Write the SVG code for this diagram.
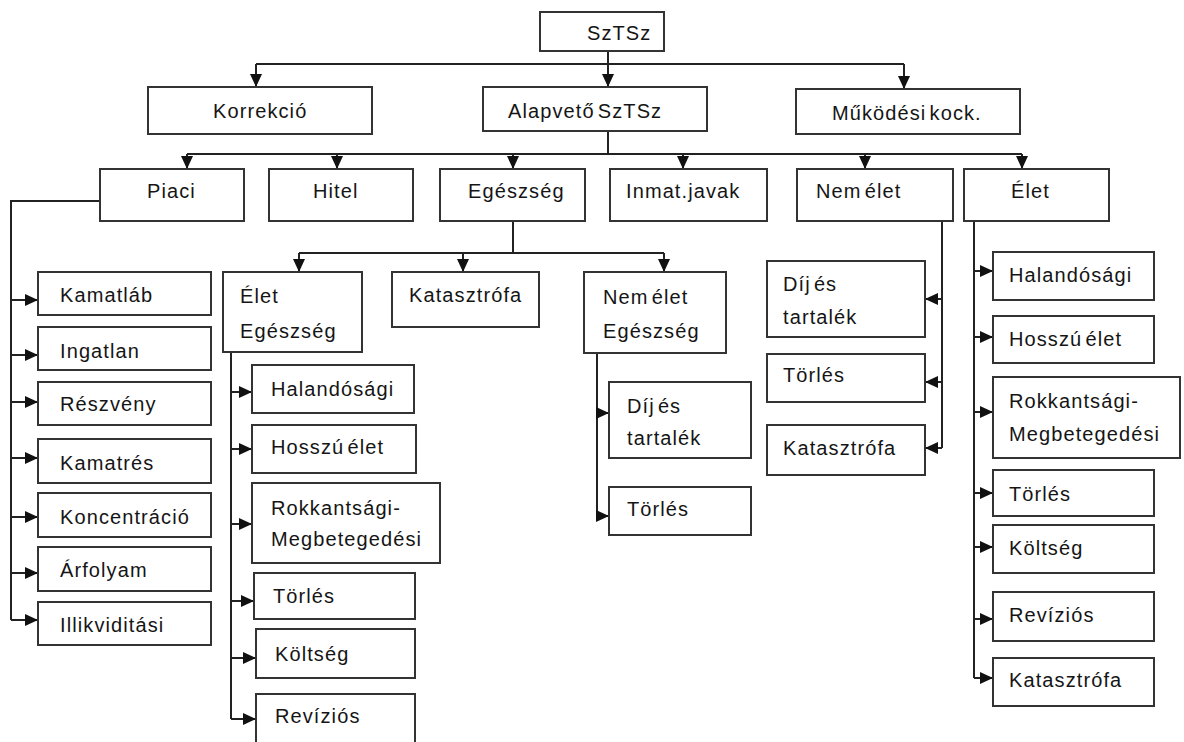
<svg xmlns="http://www.w3.org/2000/svg" width="1184" height="742" viewBox="0 0 1184 742">
<defs>
<style>
.b{fill:#fff;stroke:#333;stroke-width:2}
.t{font-family:"Liberation Sans",Arial,sans-serif;font-size:20px;fill:#151515;letter-spacing:1.1px;word-spacing:-3.5px}
.c{fill:none;stroke:#222;stroke-width:2}
</style>
<marker id="a" markerUnits="userSpaceOnUse" markerWidth="13" markerHeight="12" refX="13" refY="6" orient="auto">
<path d="M0,0 L13,6 L0,12 z" fill="#111"/>
</marker>
</defs>
<rect width="1184" height="742" fill="#fff"/>
<g id="connectors">
<path class="c" d="M608,51 V64 M256,64 H904"/>
<path class="c" d="M256,64 V87" marker-end="url(#a)"/>
<path class="c" d="M608,64 V87" marker-end="url(#a)"/>
<path class="c" d="M904,64 V89" marker-end="url(#a)"/>
<path class="c" d="M608,131 V154 M187,154 H1022"/>
<path class="c" d="M187,154 V169" marker-end="url(#a)"/>
<path class="c" d="M337,154 V169" marker-end="url(#a)"/>
<path class="c" d="M513,154 V169" marker-end="url(#a)"/>
<path class="c" d="M683,154 V169" marker-end="url(#a)"/>
<path class="c" d="M865,154 V169" marker-end="url(#a)"/>
<path class="c" d="M1022,154 V169" marker-end="url(#a)"/>
<path class="c" d="M100,201 H11 V620"/>
<path class="c" d="M11,300 H38" marker-end="url(#a)"/>
<path class="c" d="M11,355 H38" marker-end="url(#a)"/>
<path class="c" d="M11,402 H38" marker-end="url(#a)"/>
<path class="c" d="M11,458 H38" marker-end="url(#a)"/>
<path class="c" d="M11,517 H38" marker-end="url(#a)"/>
<path class="c" d="M11,573 H38" marker-end="url(#a)"/>
<path class="c" d="M11,620 H38" marker-end="url(#a)"/>
<path class="c" d="M513,221 V253 M299,253 H664"/>
<path class="c" d="M299,253 V272" marker-end="url(#a)"/>
<path class="c" d="M463,253 V272" marker-end="url(#a)"/>
<path class="c" d="M664,253 V272" marker-end="url(#a)"/>
<path class="c" d="M231,352 V719"/>
<path class="c" d="M231,392 H252" marker-end="url(#a)"/>
<path class="c" d="M231,449 H252" marker-end="url(#a)"/>
<path class="c" d="M231,524 H252" marker-end="url(#a)"/>
<path class="c" d="M231,601 H254" marker-end="url(#a)"/>
<path class="c" d="M231,658 H256" marker-end="url(#a)"/>
<path class="c" d="M231,719 H256" marker-end="url(#a)"/>
<path class="c" d="M597,353 V516"/>
<path class="c" d="M597,413 H609" marker-end="url(#a)"/>
<path class="c" d="M597,516 H609" marker-end="url(#a)"/>
<path class="c" d="M942,221 V448"/>
<path class="c" d="M942,299 H925" marker-end="url(#a)"/>
<path class="c" d="M942,382 H925" marker-end="url(#a)"/>
<path class="c" d="M942,448 H925" marker-end="url(#a)"/>
<path class="c" d="M974,221 V678"/>
<path class="c" d="M974,271 H993" marker-end="url(#a)"/>
<path class="c" d="M974,337 H993" marker-end="url(#a)"/>
<path class="c" d="M974,412 H993" marker-end="url(#a)"/>
<path class="c" d="M974,493 H993" marker-end="url(#a)"/>
<path class="c" d="M974,547 H993" marker-end="url(#a)"/>
<path class="c" d="M974,619 H993" marker-end="url(#a)"/>
<path class="c" d="M974,678 H993" marker-end="url(#a)"/>
</g>
<g id="n-sztsz"><rect class="b" x="540" y="12" width="124" height="39"/><text class="t" x="587" y="40">SzTSz</text></g>
<g id="n-korrekcio"><rect class="b" x="148" y="87" width="224" height="47"/><text class="t" x="213" y="118">Korrekció</text></g>
<g id="n-alapveto"><rect class="b" x="483" y="87" width="224" height="44"/><text class="t" x="508" y="118">Alapvető SzTSz</text></g>
<g id="n-mukodesi"><rect class="b" x="796" y="89" width="224" height="45"/><text class="t" x="832" y="120">Működési kock.</text></g>
<g id="n-piaci"><rect class="b" x="100" y="169" width="144" height="52"/><text class="t" x="147" y="198">Piaci</text></g>
<g id="n-hitel"><rect class="b" x="269" y="169" width="144" height="52"/><text class="t" x="313" y="198">Hitel</text></g>
<g id="n-egeszseg"><rect class="b" x="440" y="169" width="145" height="52"/><text class="t" x="468" y="198">Egészség</text></g>
<g id="n-inmat"><rect class="b" x="610" y="169" width="157" height="52"/><text class="t" x="626" y="198">Inmat.javak</text></g>
<g id="n-nemelet"><rect class="b" x="797" y="169" width="156" height="52"/><text class="t" x="816" y="198">Nem élet</text></g>
<g id="n-elet"><rect class="b" x="964" y="169" width="145" height="52"/><text class="t" x="1011" y="198">Élet</text></g>
<g id="n-kamatlab"><rect class="b" x="38" y="272" width="173" height="43"/><text class="t" x="60" y="302">Kamatláb</text></g>
<g id="n-ingatlan"><rect class="b" x="38" y="327" width="173" height="43"/><text class="t" x="60" y="358">Ingatlan</text></g>
<g id="n-reszveny"><rect class="b" x="38" y="382" width="173" height="43"/><text class="t" x="60" y="411">Részvény</text></g>
<g id="n-kamatres"><rect class="b" x="38" y="439" width="173" height="44"/><text class="t" x="60" y="470">Kamatrés</text></g>
<g id="n-koncentracio"><rect class="b" x="38" y="493" width="173" height="44"/><text class="t" x="60" y="524">Koncentráció</text></g>
<g id="n-arfolyam"><rect class="b" x="38" y="547" width="173" height="44"/><text class="t" x="60" y="577">Árfolyam</text></g>
<g id="n-illikvid"><rect class="b" x="38" y="602" width="173" height="43"/><text class="t" x="60" y="632">Illikviditási</text></g>
<g id="n-eletegeszseg"><rect class="b" x="223" y="272" width="139" height="80"/><text class="t" x="240" y="303">Élet</text><text class="t" x="240" y="338">Egészség</text></g>
<g id="n-katasztrofa"><rect class="b" x="392" y="272" width="147" height="55"/><text class="t" x="409" y="302">Katasztrófa</text></g>
<g id="n-nemeletegeszseg"><rect class="b" x="584" y="272" width="142" height="81"/><text class="t" x="603" y="304">Nem élet</text><text class="t" x="603" y="338">Egészség</text></g>
<g id="n-ee-halandosagi"><rect class="b" x="252" y="365" width="162" height="48"/><text class="t" x="271" y="396">Halandósági</text></g>
<g id="n-ee-hosszu"><rect class="b" x="252" y="425" width="164" height="48"/><text class="t" x="271" y="454">Hosszú élet</text></g>
<g id="n-ee-rokkant"><rect class="b" x="252" y="483" width="188" height="80"/><text class="t" x="271" y="515">Rokkantsági-</text><text class="t" x="271" y="546">Megbetegedési</text></g>
<g id="n-ee-torles"><rect class="b" x="254" y="573" width="161" height="46"/><text class="t" x="273" y="603">Törlés</text></g>
<g id="n-ee-koltseg"><rect class="b" x="256" y="629" width="159" height="49"/><text class="t" x="275" y="661">Költség</text></g>
<g id="n-ee-revizios"><rect class="b" x="256" y="694" width="159" height="60"/><text class="t" x="275" y="723">Revíziós</text></g>
<g id="n-nee-dij"><rect class="b" x="609" y="382" width="142" height="76"/><text class="t" x="627" y="413">Díj és</text><text class="t" x="627" y="445">tartalék</text></g>
<g id="n-nee-torles"><rect class="b" x="609" y="487" width="142" height="48"/><text class="t" x="627" y="516">Törlés</text></g>
<g id="n-ne-dij"><rect class="b" x="767" y="261" width="158" height="76"/><text class="t" x="783" y="291">Díj és</text><text class="t" x="783" y="324">tartalék</text></g>
<g id="n-ne-torles"><rect class="b" x="767" y="354" width="158" height="48"/><text class="t" x="783" y="382">Törlés</text></g>
<g id="n-ne-katasztrofa"><rect class="b" x="767" y="425" width="158" height="50"/><text class="t" x="783" y="455">Katasztrófa</text></g>
<g id="n-e-halandosagi"><rect class="b" x="993" y="252" width="161" height="48"/><text class="t" x="1009" y="282">Halandósági</text></g>
<g id="n-e-hosszu"><rect class="b" x="993" y="316" width="161" height="47"/><text class="t" x="1009" y="346">Hosszú élet</text></g>
<g id="n-e-rokkant"><rect class="b" x="993" y="377" width="187" height="81"/><text class="t" x="1009" y="408">Rokkantsági-</text><text class="t" x="1009" y="441">Megbetegedési</text></g>
<g id="n-e-torles"><rect class="b" x="993" y="470" width="161" height="46"/><text class="t" x="1009" y="501">Törlés</text></g>
<g id="n-e-koltseg"><rect class="b" x="993" y="525" width="161" height="48"/><text class="t" x="1009" y="555">Költség</text></g>
<g id="n-e-revizios"><rect class="b" x="993" y="592" width="161" height="49"/><text class="t" x="1009" y="622">Revíziós</text></g>
<g id="n-e-katasztrofa"><rect class="b" x="993" y="658" width="161" height="48"/><text class="t" x="1009" y="687">Katasztrófa</text></g>
</svg>
